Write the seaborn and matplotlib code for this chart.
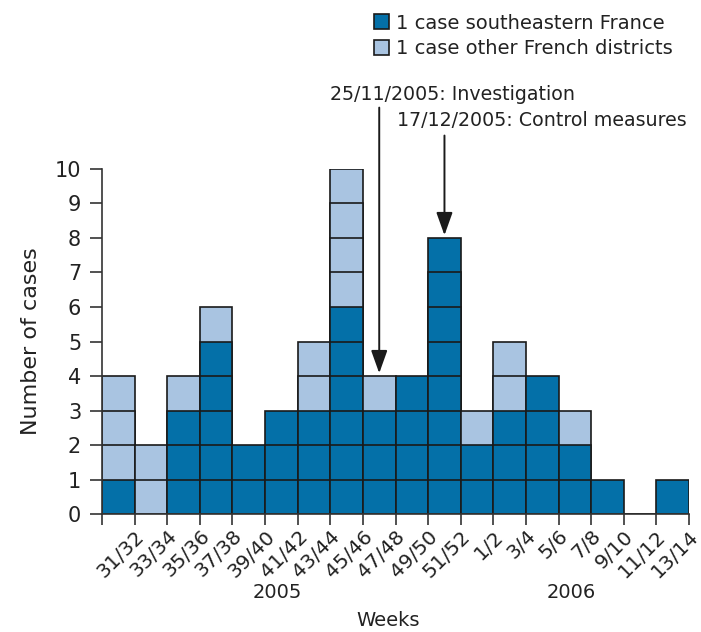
import seaborn as sns
import matplotlib.pyplot as plt
from matplotlib.patches import Patch
import pandas as pd
import numpy as np

weeks = ["31/32", "33/34", "35/36", "37/38", "39/40", "41/42", "43/44", "45/46", "47/48",
         "49/50", "51/52", "1/2", "3/4", "5/6", "7/8", "9/10", "11/12", "13/14"]
southeast = [1, 0, 3, 5, 2, 3, 3, 6, 3, 4, 8, 2, 3, 4, 2, 1, 0, 1]
other = [3, 2, 1, 1, 0, 0, 2, 4, 1, 0, 0, 1, 2, 0, 1, 0, 0, 0]
years = ["2005", "2006"]

dark = "#0470a8"
light = "#a9c4e1"
ink = "#222222"

sns.set_style("ticks")
plt.rcParams['font.family'] = ['DejaVu Sans']

fig = plt.figure(figsize=(7.01, 6.32), dpi=100)
ax = fig.add_axes([0.1455, 0.1867, 0.8375, 0.5459])

total = np.array(southeast) + np.array(other)

# one box per case: draw layers from the top down, each layer outlines a box
for k in range(total.max(), 0, -1):
    heights = [k if t >= k else 0 for t in total]
    cols = {w: (dark if k <= s else light) for w, s in zip(weeks, southeast)}
    df = pd.DataFrame({"week": weeks, "h": heights})
    sns.barplot(data=df, x="week", y="h", hue="week", palette=cols, order=weeks,
                width=1.0, edgecolor="#1a1a1a", linewidth=1.2, legend=False,
                saturation=1, ax=ax)

ax.set_xlim(-0.5, len(weeks) - 0.5)
ax.set_ylim(0, 10)
ax.set_yticks(range(0, 11))
ax.tick_params(axis="y", labelsize=15, length=9, width=1.2, color="#333333", pad=6,
               labelcolor=ink)

pos = np.arange(-0.5, len(weeks), 1.0)
ax.set_xticks(pos)
ax.set_xticklabels([""] + weeks, rotation=45, ha="right", va="top", rotation_mode="anchor",
                   fontsize=14.5, color=ink)
ax.tick_params(axis="x", length=8, width=1.2, color="#333333", pad=1)
ax.set_xlabel("")
ax.set_ylabel("Number of cases", fontsize=16, color=ink, labelpad=10)
for s in ["top", "right"]:
    ax.spines[s].set_visible(False)
for s in ["left", "bottom"]:
    ax.spines[s].set_linewidth(1.2)
    ax.spines[s].set_color("#333333")

fig.text(277 / 701, 1 - 592 / 632, years[0], fontsize=14, ha="center", va="center", color=ink)
fig.text(571 / 701, 1 - 592 / 632, years[1], fontsize=14, ha="center", va="center", color=ink)
fig.text(388 / 701, 1 - 621 / 632, "Weeks", fontsize=14, ha="center", va="center", color=ink)

# intervention arrows
arrow = dict(arrowstyle="-|>,head_length=1.4,head_width=0.5", color="#1a1a1a", lw=1.4)
i1 = weeks.index("47/48")
i2 = weeks.index("51/52")
ax.annotate("", xy=(i1, total[i1]), xytext=(i1, 11.86), arrowprops=arrow, annotation_clip=False)
ax.annotate("", xy=(i2, total[i2]), xytext=(i2, 11.05), arrowprops=arrow, annotation_clip=False)
fig.text(330 / 701, 1 - 95 / 632, "25/11/2005: Investigation", fontsize=13.7, ha="left",
         va="center", color=ink)
fig.text(397 / 701, 1 - 121 / 632, "17/12/2005: Control measures", fontsize=13.7, ha="left",
         va="center", color=ink)

handles = [Patch(facecolor=dark, edgecolor="#1a1a1a", lw=1.2),
           Patch(facecolor=light, edgecolor="#1a1a1a", lw=1.2)]
fig.legend(handles, ["1 case southeastern France", "1 case other French districts"],
           loc="upper left", bbox_to_anchor=(360 / 701, 1.0), frameon=False, fontsize=14,
           handlelength=0.8, handleheight=0.8, handletextpad=0.35, labelspacing=0.35,
           borderaxespad=0.3, labelcolor=ink)

fig.savefig("out.png", dpi=100)
